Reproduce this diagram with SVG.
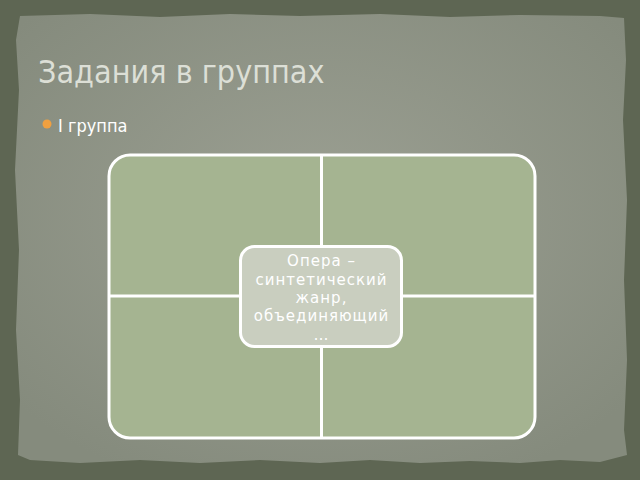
<svg xmlns="http://www.w3.org/2000/svg" width="640" height="480" viewBox="0 0 640 480">
<defs>
<radialGradient id="paper" cx="0.5" cy="0.45" r="0.65">
<stop offset="0" stop-color="#9ca093"/>
<stop offset="1" stop-color="#858b7d"/>
</radialGradient>
<style>
.cell{fill:#a5b491;stroke:none}
.div{stroke:#ffffff;stroke-width:3;fill:none}
.ctext{font-family:"DejaVu Sans",sans-serif;font-size:15px;letter-spacing:1px;fill:#ffffff;text-anchor:middle}
</style>
</defs>
<rect x="0" y="0" width="640" height="480" fill="#5e6653"/>
<path d="M20,16 L90,14 L160,17 L230,14 L300,16 L380,14 L450,17 L520,15 L600,16 L624,18 L626,60 L623,120 L627,200 L624,280 L627,360 L624,430 L627,455 L600,462 L560,460 L520,463 L470,461 L420,463 L370,460 L320,463 L260,460 L200,463 L140,460 L80,463 L30,460 L18,455 L20,400 L16,330 L19,250 L15,170 L19,90 L16,40 Z" fill="url(#paper)"/>
<text x="38" y="83" font-family="DejaVu Sans Condensed, DejaVu Sans, sans-serif" font-stretch="condensed" font-size="32" fill="#dcdfd6">Задания в группах</text>
<circle cx="47" cy="124" r="4.5" fill="#f0a040"/>
<text x="58" y="132" font-family="DejaVu Sans Condensed, DejaVu Sans, sans-serif" font-stretch="condensed" font-size="18" fill="#ffffff">I группа</text>
<g id="matrix">
<rect class="cell" x="109" y="155" width="426" height="283" rx="21"/>
</g>
<g id="connectors">
<rect class="div" x="109" y="155" width="426" height="283" rx="21"/>
<line class="div" x1="321.5" y1="155" x2="321.5" y2="438"/>
<line class="div" x1="109" y1="296" x2="535" y2="296"/>
</g>
<g id="center">
<rect x="240.5" y="246.5" width="161" height="100" rx="14" fill="#c9cebf" stroke="#ffffff" stroke-width="3"/>
<text class="ctext" x="321.5" y="266">Опера –</text>
<text class="ctext" x="321.5" y="285">синтетический</text>
<text class="ctext" x="321.5" y="303">жанр,</text>
<text class="ctext" x="321.5" y="321">объединяющий</text>
<text class="ctext" x="321.5" y="340">…</text>
</g>
</svg>
